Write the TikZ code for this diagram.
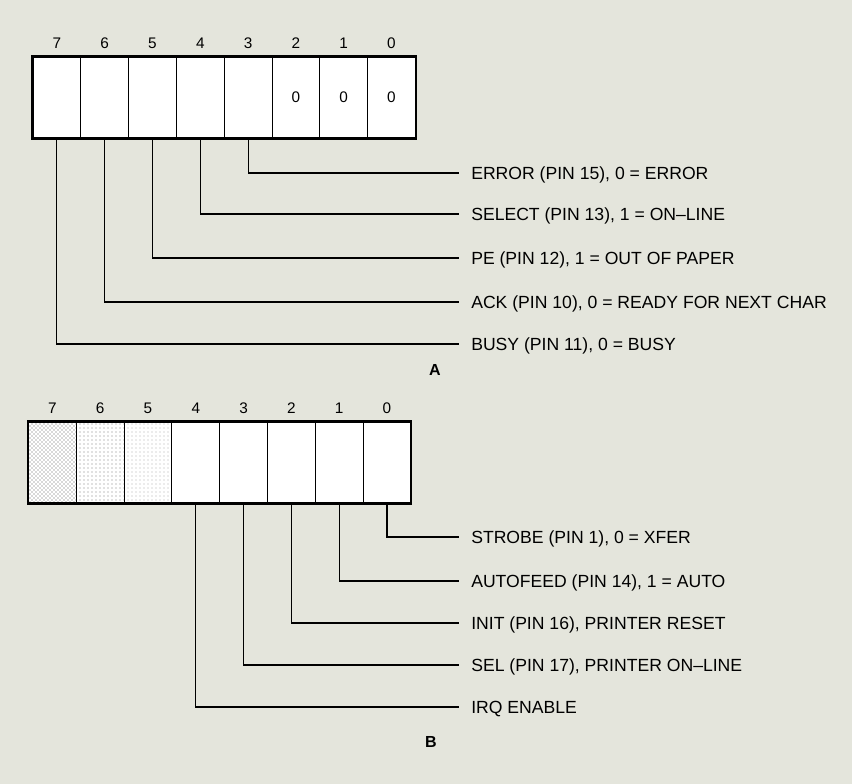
\documentclass[tikz,border=0pt]{standalone}
\usepackage{fontspec}
\setmainfont{Liberation Sans}
\usetikzlibrary{positioning,patterns}
\definecolor{paper}{RGB}{228,229,220}
\tikzset{
  cell/.style={draw,fill=white,line width=.7pt,inner sep=0pt,minimum width=35.85pt,minimum height=60.75pt,font=\fontsize{11.5}{13}\selectfont},
  nostip/.style={},
  stipA/.style={preaction={fill=white},pattern=crosshatch dots,pattern color=black!65},
  stipB/.style={preaction={fill=white},pattern=dots,pattern color=black!50},
  stipC/.style={preaction={fill=white},pattern=dots,pattern color=black!32},
  bitno/.style={inner sep=0pt,font=\fontsize{11.5}{13}\selectfont},
  sig/.style={anchor=west,inner xsep=9pt,inner ysep=0pt,text height=9.5pt,text depth=0pt,font=\fontsize{13.2}{15}\selectfont},
  lead/.style={line width=.85pt},
  frame/.style={line width=1.6pt},
  tag/.style={font=\fontsize{12}{14}\selectfont\bfseries}
}
\begin{document}
\begin{tikzpicture}[x=.75pt,y=-.75pt]
\fill[paper] (0,0) rectangle (852,784);
\useasboundingbox (0,0) rectangle (852,784);
% register A
\foreach \i/\v in {7/,6/,5/,4/,3/,2/0,1/0,0/0}
  \node[cell] (a\i) at ({33+47.8*(7.5-\i)},97.5) {\v};
\foreach \i in {0,...,7}
  \node[bitno,above=5.5pt of a\i] (na\i) {\i};
\draw[frame] (a7.north west) rectangle (a0.south east);
\node[sig] (err) at (459,173) {ERROR (PIN 15), 0 = ERROR};
\node[sig] (sel) at (459,214) {SELECT (PIN 13), 1 = ON–LINE};
\node[sig] (pe) at (459,258) {PE (PIN 12), 1 = OUT OF PAPER};
\node[sig] (ack) at (459,302) {ACK (PIN 10), 0 = READY FOR NEXT CHAR};
\node[sig] (busy) at (459,344) {BUSY (PIN 11), 0 = BUSY};
\draw[lead] (a3.south) |- (err.west);
\draw[lead] (a4.south) |- (sel.west);
\draw[lead] (a5.south) |- (pe.west);
\draw[lead] (a6.south) |- (ack.west);
\draw[lead] (a7.south) |- (busy.west);
\node[tag] (tagA) at (435,370) {A};
% register B
\foreach \i/\s in {7/stipA,6/stipB,5/stipC,4/nostip,3/nostip,2/nostip,1/nostip,0/nostip}
  \node[cell,\s] (b\i) at ({28.5+47.8*(7.5-\i)},462.5) {};
\foreach \i in {0,...,7}
  \node[bitno,above=5.5pt of b\i] (nb\i) {\i};
\draw[frame] (b7.north west) rectangle (b0.south east);
\node[sig] (strobe) at (459,537) {STROBE (PIN 1), 0 = XFER};
\node[sig] (afd) at (459,581) {AUTOFEED (PIN 14), 1 = AUTO};
\node[sig] (init) at (459,623) {INIT (PIN 16), PRINTER RESET};
\node[sig] (slin) at (459,665) {SEL (PIN 17), PRINTER ON–LINE};
\node[sig] (irq) at (459,707) {IRQ ENABLE};
\draw[lead] (b0.south) |- (strobe.west);
\draw[lead] (b1.south) |- (afd.west);
\draw[lead] (b2.south) |- (init.west);
\draw[lead] (b3.south) |- (slin.west);
\draw[lead] (b4.south) |- (irq.west);
\node[tag] (tagB) at (431,742) {B};
\end{tikzpicture}
\end{document}
